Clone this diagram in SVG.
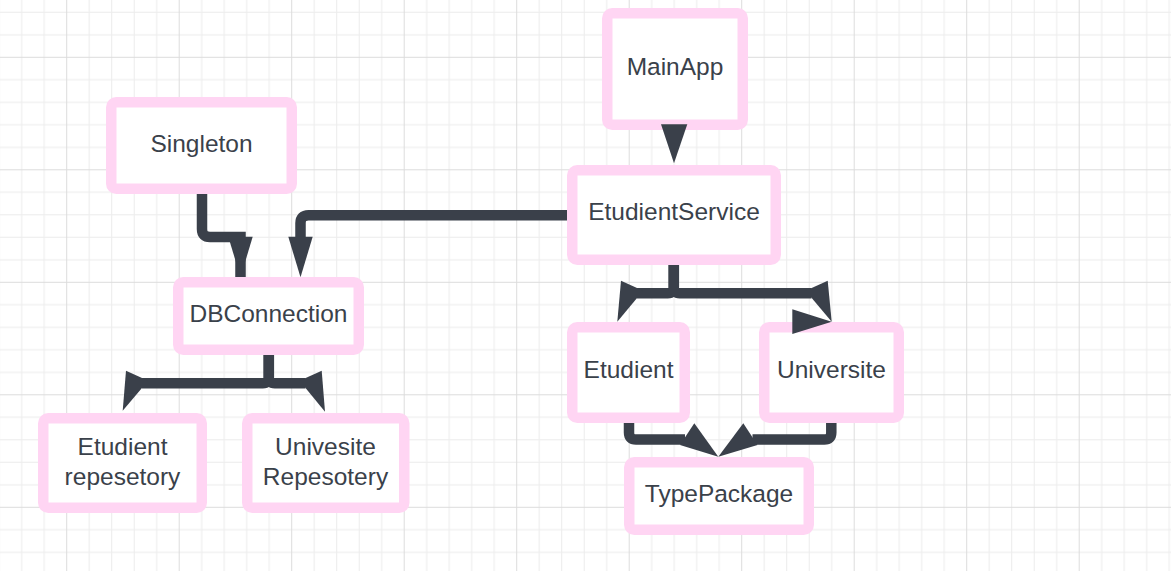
<svg xmlns="http://www.w3.org/2000/svg" width="1171" height="571" viewBox="0 0 1171 571">
<defs>
<pattern id="grid" x="66.2" y="56.8" width="112.5" height="112.5" patternUnits="userSpaceOnUse">
<path d="M23 0V112.5M45.5 0V112.5M68 0V112.5M90.5 0V112.5M0 23H112.5M0 45.5H112.5M0 68H112.5M0 90.5H112.5" stroke="#ececec" stroke-width="1"/>
<path d="M0.5 0V112.5M0 0.5H112.5" stroke="#dcdcdc" stroke-width="1"/>
</pattern>
<style>
.node rect{fill:#ffffff;stroke:#ffd5f3;stroke-width:10.5}
.node text{font-family:"Liberation Sans",Arial,sans-serif;font-size:24.5px;fill:#3a414a;text-anchor:middle}
.edge{fill:none;stroke:#3a404a;stroke-width:10.5;stroke-linejoin:miter}
.head{fill:#3a404a}
</style>
</defs>
<rect width="1171" height="571" fill="#ffffff"/>
<rect width="1171" height="571" fill="url(#grid)"/>
<g id="nodes">
<g id="singleton" class="node"><rect x="111.25" y="102.25" width="180.5" height="86.5" rx="5"/><text x="201.5" y="151.7">Singleton</text></g>
<g id="mainapp" class="node"><rect x="607.25" y="13.25" width="135.5" height="111.5" rx="5"/><text x="675" y="74.5">MainApp</text></g>
<g id="etudientservice" class="node"><rect x="572.25" y="170.25" width="203.5" height="89.5" rx="5"/><text x="674" y="219.5">EtudientService</text></g>
<g id="dbconnection" class="node"><rect x="178.25" y="282.25" width="180.5" height="67.5" rx="5"/><text x="268.5" y="321.7">DBConnection</text></g>
<g id="etudientrepo" class="node"><rect x="43.25" y="418.25" width="158.5" height="89.5" rx="5"/><text x="122.5" y="455">Etudient</text><text x="122.5" y="485">repesetory</text></g>
<g id="universiterepo" class="node"><rect x="247.25" y="418.25" width="157" height="89.5" rx="5"/><text x="325.5" y="455">Univesite</text><text x="325.5" y="485">Repesotery</text></g>
<g id="etudient" class="node"><rect x="572.25" y="327.25" width="112.5" height="90.5" rx="5"/><text x="628.5" y="378.3">Etudient</text></g>
<g id="universite" class="node"><rect x="764.25" y="327.25" width="134.5" height="90.5" rx="5"/><text x="831.5" y="378.3">Universite</text></g>
<g id="typepackage" class="node"><rect x="629.25" y="462.25" width="179.5" height="67.5" rx="5"/><text x="719" y="501.7">TypePackage</text></g>
</g>
<g id="connectors">
<path class="edge" d="M202,194 V229 Q202,237 210,237 H240.5 V277"/>
<polygon class="head" points="228.3,236.7 252.7,236.7 240.5,277.3"/>
<path class="edge" d="M567,215.3 H308.5 Q300.5,215.3 300.5,223.3 V240"/>
<polygon class="head" points="288.3,236.7 312.7,236.7 300.5,277.3"/>
<polygon class="head" points="661,124.3 687.3,124.3 674,163.3"/>
<path class="edge" d="M673.8,265 V287.3 Q673.8,293.3 667.8,293.3 H637"/>
<polygon class="head" points="621,280.7 643.1,290.7 617.3,321.7"/>
<path class="edge" d="M673.8,265 V287.3 Q673.8,293.3 679.8,293.3 H811.5"/>
<polygon class="head" points="827.7,280.7 805.6,290.7 831.7,321.7"/>
<polygon class="head" points="792.3,309.3 792.3,334 831.7,321.7"/>
<path class="edge" d="M268.8,355 V377.3 Q268.8,383.3 262.8,383.3 H142"/>
<polygon class="head" points="126,370.7 148.1,380.7 122.7,410.7"/>
<path class="edge" d="M268.8,355 V377.3 Q268.8,383.3 274.8,383.3 H305.5"/>
<polygon class="head" points="321.7,370.7 299.6,380.7 325,411.7"/>
<path class="edge" d="M629,423 V432.5 Q629,439.5 636,439.5 H685"/>
<polygon class="head" points="694.3,423.3 680,445 718.3,456.7"/>
<path class="edge" d="M831.3,423 V432.5 Q831.3,439.5 824.3,439.5 H752.5"/>
<polygon class="head" points="743.3,423.3 757.5,445 718.3,456.7"/>
</g>
</svg>
